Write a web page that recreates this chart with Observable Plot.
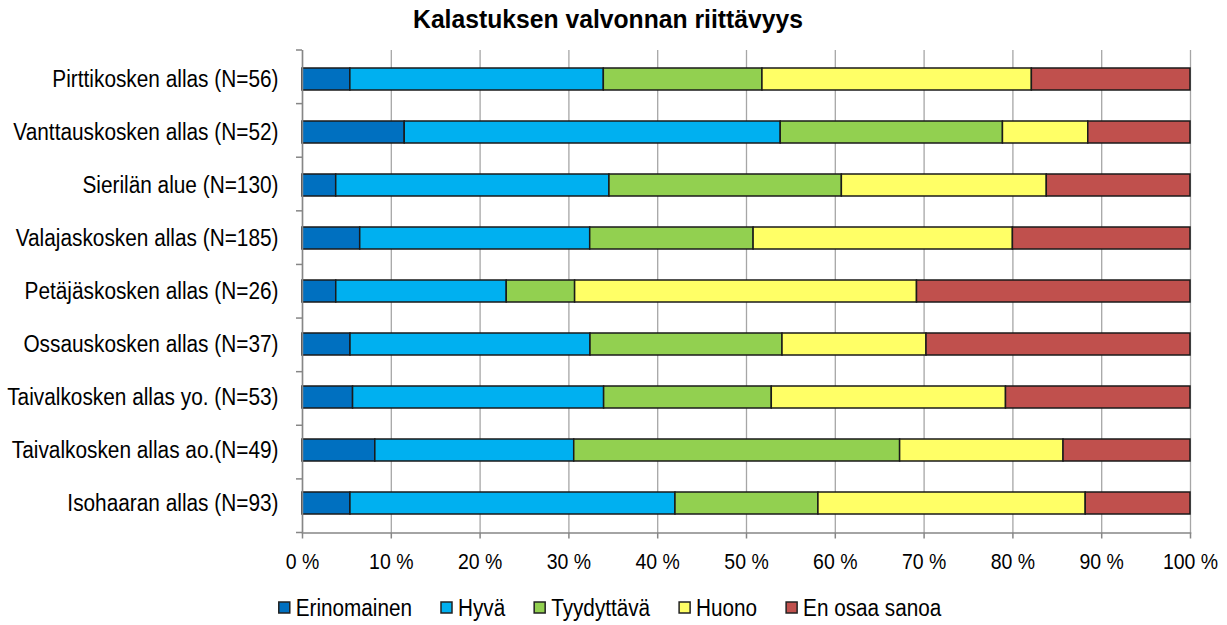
<!DOCTYPE html>
<html>
<head>
<meta charset="utf-8">
<script src="https://cdn.jsdelivr.net/npm/d3@7"></script>
<script src="https://cdn.jsdelivr.net/npm/@observablehq/plot@0.6"></script>
<style>
  body { margin: 0; background: #fff; font-family: "Liberation Sans", Arial, sans-serif; }
  svg { display: block; }
</style>
</head>
<body>
<div id="title"></div>
<div id="chart"></div>
<div id="legend"></div>
<script>
const titleText = "Kalastuksen valvonnan riittävyys";
const categories = [
  "Pirttikosken allas (N=56)",
  "Vanttauskosken allas (N=52)",
  "Sierilän alue (N=130)",
  "Valajaskosken allas (N=185)",
  "Petäjäskosken allas (N=26)",
  "Ossauskosken allas (N=37)",
  "Taivalkosken allas yo. (N=53)",
  "Taivalkosken allas ao.(N=49)",
  "Isohaaran allas (N=93)"
];
const responses = ["Erinomainen", "Hyvä", "Tyydyttävä", "Huono", "En osaa sanoa"];
const colors = ["#0070C0", "#00B0F0", "#92D050", "#FFFF66", "#C0504D"];

// percentages per category (same order as categories)
const erinomainen = [5.4, 11.5, 3.8, 6.5, 3.8, 5.4, 5.7, 8.2, 5.4];
const hyva        = [28.6, 42.3, 30.8, 25.9, 19.2, 27.0, 28.3, 22.4, 36.6];
const tyydyttava  = [17.9, 25.0, 26.2, 18.4, 7.7, 21.6, 18.9, 36.7, 16.1];
const huono       = [30.4, 9.6, 23.1, 29.2, 38.5, 16.2, 26.4, 18.4, 30.1];
const enOsaa      = [17.9, 11.5, 16.2, 20.0, 30.8, 29.7, 20.8, 14.3, 11.8];
const xTicks = [0, 0.1, 0.2, 0.3, 0.4, 0.5, 0.6, 0.7, 0.8, 0.9, 1];
const xTickLabels = ["0 %", "10 %", "20 %", "30 %", "40 %", "50 %", "60 %", "70 %", "80 %", "90 %", "100 %"];

const series = [erinomainen, hyva, tyydyttava, huono, enOsaa];
const data = [];
categories.forEach((c, i) => {
  series.forEach((s, j) => data.push({category: c, response: responses[j], value: s[i]}));
});

// emulate a narrow (condensed) font by compressing rendered text
function compress(nodes, f, mode) {
  nodes.forEach(t => {
    const len = t.getComputedTextLength();
    if (len > 0) {
      t.setAttribute("textLength", len * f);
      t.setAttribute("lengthAdjust", mode || "spacingAndGlyphs");
    }
  });
}

// title
const tsvg = d3.select("#title").append("svg").attr("width", 1227).attr("height", 40);
const tt = tsvg.append("text").attr("x", 608).attr("y", 28).attr("text-anchor", "middle")
  .attr("font-family", "'Liberation Sans', Arial, sans-serif").attr("font-weight", "bold")
  .attr("font-size", 26).attr("fill", "#000").text(titleText);
compress([tt.node()], 0.95);

const axisGray = "#868686";
const boundaryTicks = (index, scales, values, dimensions) => {
  const {marginTop, marginBottom, marginLeft, height} = dimensions;
  const step = (height - marginTop - marginBottom) / categories.length;
  const g = d3.create("svg:g");
  for (let i = 0; i <= categories.length; i++) {
    const y = marginTop + i * step;
    g.append("line").attr("x1", marginLeft - 6).attr("x2", marginLeft)
      .attr("y1", y).attr("y2", y).attr("stroke", axisGray).attr("stroke-width", 1.5);
  }
  return g.node();
};

const chart = Plot.plot({
  width: 1227,
  height: 550,
  marginLeft: 302,
  marginRight: 37,
  marginTop: 10,
  marginBottom: 57.5,
  style: {fontFamily: "'Liberation Sans', Arial, sans-serif", fontSize: "23px", color: "#000", background: "#fff"},
  x: {domain: [0, 1]},
  y: {domain: categories, paddingInner: 0.59, paddingOuter: 0.295},
  color: {domain: responses, range: colors},
  marks: [
    Plot.gridX(xTicks, {stroke: "#a6a6a6", strokeOpacity: 1, strokeWidth: 1.3}),
    Plot.barX(data, Plot.stackX({offset: "normalize", order: null, x: "value", y: "category", fill: "response", stroke: "#1a1a1a", strokeWidth: 1.5})),
    Plot.ruleX([0], {stroke: axisGray, strokeWidth: 1.5}),
    Plot.axisX(xTicks, {tickSize: 6, tickPadding: 14, stroke: axisGray, strokeWidth: 1.5, fontSize: 22, tickFormat: (d, i) => xTickLabels[i], label: null}),
    Plot.axisY({tickSize: 0, tickPadding: 24, label: null}),
    boundaryTicks,
    Plot.frame({anchor: "bottom", stroke: axisGray, strokeWidth: 1.5})
  ]
});
document.getElementById("chart").appendChild(chart);

// compress axis labels
const axisTexts = Array.from(chart.querySelectorAll("text"));
axisTexts.forEach(t => {
  const isX = xTickLabels.includes(t.textContent);
  compress([t], isX ? 0.885 : 0.905);
});

// legend
const lsvg = d3.select("#legend").append("svg").attr("width", 1227).attr("height", 36);
const lg = lsvg.append("g");
let cx = 0;
const gap = 29;
responses.forEach((r, i) => {
  const g = lg.append("g").attr("transform", `translate(${cx},18)`);
  g.append("rect").attr("x", 0).attr("y", -6).attr("width", 11).attr("height", 11)
    .attr("fill", colors[i]).attr("stroke", "#222").attr("stroke-width", 1.5);
  const t = g.append("text").attr("x", 17).attr("dy", "0.35em")
    .attr("font-family", "'Liberation Sans', Arial, sans-serif").attr("font-size", 23)
    .attr("fill", "#000").text(r);
  const len = t.node().getComputedTextLength() * 0.9;
  compress([t.node()], 0.9);
  cx += 17 + len + gap;
});
const total = cx - gap;
lg.attr("transform", `translate(${610 - total / 2},0)`);
</script>
</body>
</html>
